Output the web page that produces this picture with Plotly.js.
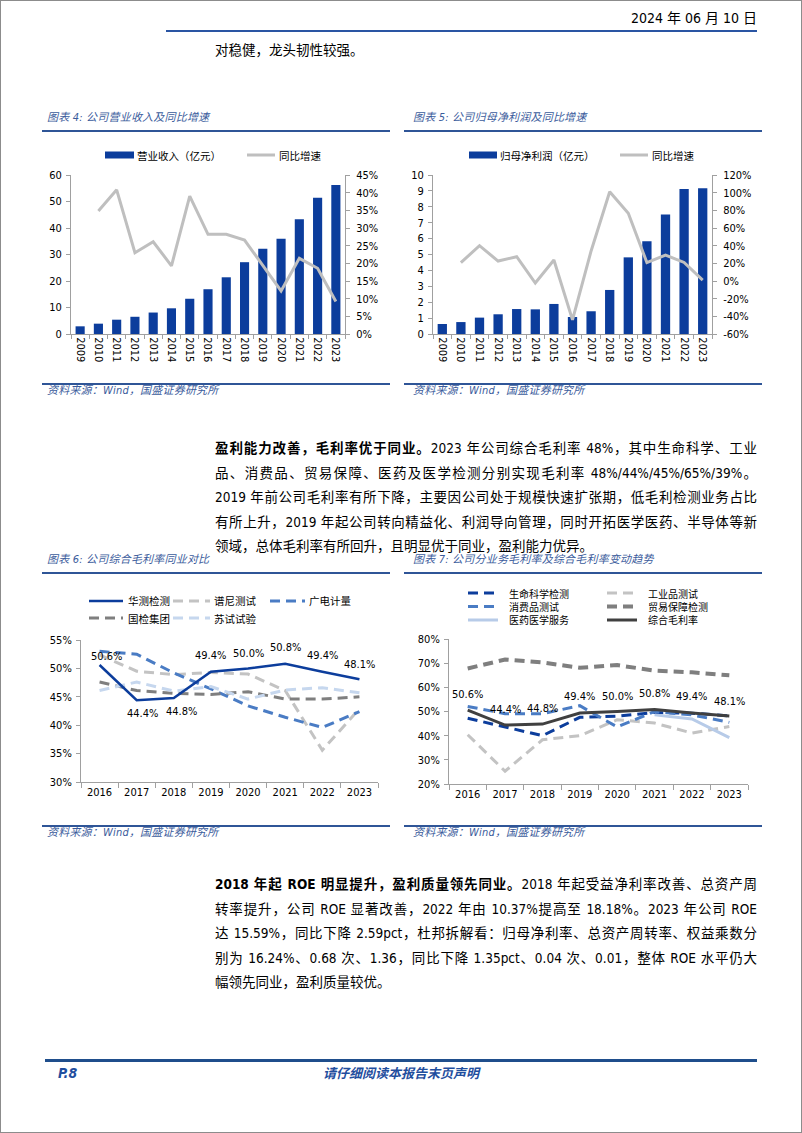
<!DOCTYPE html>
<html>
<head>
<meta charset="utf-8">
<script src="https://cdn.plot.ly/plotly-3.0.1.min.js"></script>
<style>
body{margin:0;background:#fff}
#page{position:relative;width:802px;height:1133px;overflow:hidden;background:#fff;color:#000;
  font-family:'DejaVu Sans Condensed','DejaVu Sans','Noto Sans CJK SC',sans-serif}
.frame{position:absolute;left:0;top:0;width:802px;height:1133px;box-sizing:border-box;border:1px solid #8c8c8c}
.cap{position:absolute;font-family:'DejaVu Sans Condensed','DejaVu Sans','Noto Sans CJK SC',sans-serif;
  font-style:italic;font-size:11px;color:#3b5c9c;letter-spacing:0.2px;line-height:14px;white-space:nowrap}
.rule{position:absolute;height:1.5px;background:#2f5597}
.para{position:absolute;left:215px;width:542px;font-size:13.5px;line-height:24.5px}
.para div{text-align:justify;text-align-last:justify;height:24.5px}
.para div.last{text-align-last:left}
.plot{position:absolute}
</style>
</head>
<body>
<div id="page">
  <div class="frame"></div>

  <!-- header -->
  <div style="position:absolute;right:45px;top:9px;font-size:14px;line-height:18px">2024 年 06 月 10 日</div>
  <div style="position:absolute;left:166px;top:30px;width:591px;height:2px;background:#2a55a3"></div>
  <div style="position:absolute;left:215px;top:40px;font-size:13.5px;line-height:20px">对稳健，龙头韧性较强。</div>

  <!-- 图表4 / 图表5 -->
  <div class="cap" style="left:47px;top:111px">图表 4: 公司营业收入及同比增速</div>
  <div class="rule" style="left:42px;top:130px;width:348px"></div>
  <div class="cap" style="left:413px;top:111px">图表 5: 公司归母净利润及同比增速</div>
  <div class="rule" style="left:404px;top:130px;width:358px"></div>
  <div id="chart4" class="plot" style="left:40px;top:135px"></div>
  <div id="chart5" class="plot" style="left:405px;top:135px"></div>
  <div class="rule" style="left:42px;top:383px;width:348px"></div>
  <div class="cap" style="left:47px;top:384px">资料来源：Wind，国盛证券研究所</div>
  <div class="rule" style="left:404px;top:383px;width:358px"></div>
  <div class="cap" style="left:413px;top:384px">资料来源：Wind，国盛证券研究所</div>

  <!-- paragraph 1 -->
  <div class="para" style="top:436px">
    <div><b>盈利能力改善，毛利率优于同业。</b>2023 年公司综合毛利率 48%，其中生命科学、工业</div>
    <div>品、消费品、贸易保障、医药及医学检测分别实现毛利率 48%/44%/45%/65%/39%。</div>
    <div>2019 年前公司毛利率有所下降，主要因公司处于规模快速扩张期，低毛利检测业务占比</div>
    <div>有所上升，2019 年起公司转向精益化、利润导向管理，同时开拓医学医药、半导体等新</div>
    <div class="last">领域，总体毛利率有所回升，且明显优于同业，盈利能力优异。</div>
  </div>

  <!-- 图表6 / 图表7 -->
  <div class="cap" style="left:47px;top:553px">图表 6: 公司综合毛利率同业对比</div>
  <div class="rule" style="left:42px;top:572px;width:348px"></div>
  <div class="cap" style="left:413px;top:553px">图表 7: 公司分业务毛利率及综合毛利率变动趋势</div>
  <div class="rule" style="left:404px;top:572px;width:358px"></div>
  <div id="chart6" class="plot" style="left:40px;top:575px"></div>
  <div id="chart7" class="plot" style="left:405px;top:575px"></div>
  <div class="rule" style="left:42px;top:825px;width:348px"></div>
  <div class="cap" style="left:47px;top:826px">资料来源：Wind，国盛证券研究所</div>
  <div class="rule" style="left:404px;top:825px;width:358px"></div>
  <div class="cap" style="left:413px;top:826px">资料来源：Wind，国盛证券研究所</div>

  <!-- paragraph 2 -->
  <div class="para" style="top:872px">
    <div><b>2018 年起 ROE 明显提升，盈利质量领先同业。</b>2018 年起受益净利率改善、总资产周</div>
    <div>转率提升，公司 ROE 显著改善，2022 年由 10.37%提高至 18.18%。2023 年公司 ROE</div>
    <div>达 15.59%，同比下降 2.59pct，杜邦拆解看：归母净利率、总资产周转率、权益乘数分</div>
    <div>别为 16.24%、0.68 次、1.36，同比下降 1.35pct、0.04 次、0.01，整体 ROE 水平仍大</div>
    <div class="last">幅领先同业，盈利质量较优。</div>
  </div>

  <!-- footer -->
  <div style="position:absolute;left:45px;top:1059px;width:712px;height:3px;background:#1f4e8c"></div>
  <div style="position:absolute;left:58px;top:1064px;font-size:14px;line-height:18px;font-weight:bold;font-style:italic;color:#1f4e9e">P.8</div>
  <div style="position:absolute;left:0;width:802px;top:1064px;text-align:center;font-size:13px;line-height:18px;font-weight:bold;font-style:italic;color:#1f4e9e;font-family:'Noto Sans CJK SC',sans-serif">请仔细阅读本报告末页声明</div>
</div>

<script>
// data
var years = ['2009', '2010', '2011', '2012', '2013', '2014', '2015', '2016', '2017', '2018', '2019', '2020', '2021', '2022', '2023'];
var revenue = [2.9, 3.9, 5.4, 6.5, 8.1, 9.7, 13.3, 16.9, 21.4, 27.1, 32.2, 35.9, 43.3, 51.4, 56.2];
var revenueYoy = [null, 34.8, 40.8, 23.0, 26.1, 19.3, 39.0, 28.2, 28.2, 26.6, 19.5, 12.2, 21.4, 18.6, 9.2];
var profit = [0.63, 0.75, 1.03, 1.24, 1.57, 1.55, 1.89, 1.07, 1.43, 2.77, 4.82, 5.83, 7.51, 9.12, 9.16];
var profitYoy = [null, 20.8, 40.0, 22.6, 27.5, -2.3, 23.8, -44.0, 34.0, 101.0, 76.6, 20.8, 29.4, 21.0, 1.0];

var yrs = ['2016', '2017', '2018', '2019', '2020', '2021', '2022', '2023'];
// 图表6 同业毛利率
var huace = [50.6, 44.4, 44.8, 49.4, 50.0, 50.8, 49.4, 48.1];
var pony = [52.4, 49.5, 48.9, 49.3, 49.0, 46.1, 35.6, 42.9];
var grg = [53.0, 52.5, 49.2, 46.4, 43.4, 41.4, 39.6, 42.4];
var ctc = [47.6, 46.1, 45.6, 45.4, 45.9, 44.6, 44.6, 45.0];
var sushi = [46.1, 47.6, 46.0, 46.8, 44.6, 46.2, 46.6, 45.7];
// 图表7 分业务毛利率
var lifeSci = [47.2, 43.6, 40.0, 47.6, 48.1, 49.6, 49.3, 48.2];
var industrial = [40.4, 25.3, 38.3, 40.0, 46.6, 45.2, 41.1, 43.8];
var consumer = [52.1, 49.1, 49.1, 52.4, 43.6, 50.0, 48.6, 45.5];
var trade = [67.8, 71.5, 70.3, 68.1, 69.2, 66.9, 66.2, 65.0];
var pharma = [null, null, null, null, null, 48.6, 46.9, 39.2];
var overall = [50.6, 44.4, 44.8, 49.4, 50.0, 50.8, 49.4, 48.1];

var numFont = "'DejaVu Sans Condensed', 'DejaVu Sans', sans-serif";
var cjkFont = "'Noto Sans CJK SC', sans-serif";
var navy = '#0c3d9c';
var axisGray = '#a0a0a0';
var config = {staticPlot: true};

function baseAxis(extra) {
    var a = {
        showgrid: false, zeroline: false, showline: true, linecolor: axisGray, linewidth: 1,
        ticks: 'outside', ticklen: 4, tickcolor: axisGray,
        tickfont: {family: numFont, size: 11, color: '#000'}
    };
    for (var k in extra) a[k] = extra[k];
    return a;
}

// legend drawn by hand so the swatches match the report; pos = [x0, x1, textX, y] in page px
function addLegend(layout, box, traces, pos, fontSize) {
    var m = layout.margin;
    var pw = box.w - m.l - m.r, ph = box.h - m.t - m.b;
    function px(x) { return (x - box.x - m.l) / pw; }
    function py(y) { return 1 - (y - box.y - m.t) / ph; }
    layout.shapes = layout.shapes || [];
    layout.annotations = layout.annotations || [];
    traces.forEach(function(tr, i) {
        var p = pos[i];
        if (tr.type === 'bar') {
            layout.shapes.push({type: 'rect', xref: 'paper', yref: 'paper',
                x0: px(p[0]), x1: px(p[1]), y0: py(p[3] + 3.5), y1: py(p[3] - 3.5),
                fillcolor: tr.marker.color, line: {width: 0}});
        } else {
            layout.shapes.push({type: 'line', xref: 'paper', yref: 'paper',
                x0: px(p[0]), x1: px(p[1]), y0: py(p[3]), y1: py(p[3]),
                line: {color: tr.line.color, width: tr.line.width, dash: tr.line.dash || 'solid'}});
        }
        layout.annotations.push({xref: 'paper', yref: 'paper', x: px(p[2]), y: py(p[3]),
            xanchor: 'left', yanchor: 'middle', showarrow: false, text: tr.name, borderpad: 0,
            font: {family: cjkFont, size: fontSize || 10.5, color: '#000'}});
    });
}

function barChart(id, box, barName, barVals, lineVals, y1, y2, legendPos) {
    var traces = [
        {type: 'bar', name: barName, x: years, y: barVals, marker: {color: navy}},
        {type: 'scatter', mode: 'lines', name: '同比增速', x: years, y: lineVals, yaxis: 'y2',
            line: {color: '#bfbfbf', width: 3}}
    ];
    var ticks2 = [];
    for (var v = y2.range[0]; v <= y2.range[1]; v += y2.dtick) ticks2.push(v);
    var layout = {
        width: box.w, height: box.h, margin: box.m, showlegend: false, bargap: 0.5,
        paper_bgcolor: 'rgba(0,0,0,0)', plot_bgcolor: 'rgba(0,0,0,0)',
        xaxis: baseAxis({type: 'category', range: [-0.5, years.length - 0.5], tickangle: 90, tickson: 'boundaries'}),
        yaxis: baseAxis({range: y1.range, dtick: y1.dtick, ticklabelstandoff: 2}),
        yaxis2: baseAxis({range: y2.range, overlaying: 'y', side: 'right', ticklabelstandoff: 4,
            tickmode: 'array', tickvals: ticks2, ticktext: ticks2.map(function(t) { return t + '%'; })})
    };
    addLegend(layout, box, traces, legendPos);
    Plotly.newPlot(id, traces, layout, config);
}

function lineChart(id, box, traces, yRange, dtick, labelVals, xs, ys, legendPos, legendSize) {
    var layout = {
        width: box.w, height: box.h, margin: box.m, showlegend: false,
        paper_bgcolor: 'rgba(0,0,0,0)', plot_bgcolor: 'rgba(0,0,0,0)',
        xaxis: baseAxis({type: 'category', range: [-0.5, yrs.length - 0.5], tickson: 'boundaries', ticklen: 5}),
        yaxis: baseAxis({range: yRange, dtick: dtick, ticksuffix: '%', ticklabelstandoff: 2}),
        // value labels: x given as category index so '2016' is not read as a number
        annotations: labelVals.map(function(v, i) {
            return {x: i, y: v, xref: 'x', yref: 'y', text: v.toFixed(1) + '%', showarrow: false,
                xshift: xs[i], yshift: ys[i], font: {family: numFont, size: 11, color: '#000'}};
        })
    };
    addLegend(layout, box, traces, legendPos, legendSize);
    Plotly.newPlot(id, traces, layout, config);
}

function dashed(name, y, color, width) {
    return {type: 'scatter', mode: 'lines', name: name, x: yrs, y: y,
        line: {color: color, width: width, dash: '10px,6px'}};
}
function solid(name, y, color, width) {
    return {type: 'scatter', mode: 'lines', name: name, x: yrs, y: y,
        line: {color: color, width: width}};
}

// 图表4
barChart('chart4', {x: 40, y: 135, w: 355, h: 245, m: {l: 31, r: 50, t: 40, b: 46}},
    '营业收入（亿元）', revenue, revenueYoy,
    {range: [0, 60], dtick: 10}, {range: [0, 45], dtick: 5},
    [[105, 134, 136, 155], [247, 275, 278, 155]]);

// 图表5
barChart('chart5', {x: 405, y: 135, w: 357, h: 245, m: {l: 28, r: 50, t: 40, b: 46}},
    '归母净利润（亿元）', profit, profitYoy,
    {range: [0, 10], dtick: 1}, {range: [-60, 120], dtick: 20},
    [[469, 497, 499, 155], [620, 648, 651, 155]]);

// 图表6
lineChart('chart6', {x: 40, y: 575, w: 352, h: 245, m: {l: 41, r: 14, t: 65, b: 38}},
    [
        dashed('谱尼测试', pony, '#c3c3c3', 3),
        dashed('广电计量', grg, '#4a7cc4', 3),
        dashed('国检集团', ctc, '#7f7f7f', 3),
        dashed('苏试试验', sushi, '#c6d7ee', 3),
        solid('华测检测', huace, navy, 2.5)
    ],
    [30, 55], 5, huace,
    [7, 6, 8, 0, 0, 0, 0, 0], [8, -13, -14, 16, 15, 16, 16, 15],
    [[173, 210, 213, 601], [270, 305, 308, 601], [89, 123, 127, 618], [173, 210, 213, 618], [89, 123, 127, 601]],
    10.5);

// 图表7
lineChart('chart7', {x: 405, y: 575, w: 357, h: 245, m: {l: 44, r: 14, t: 64, b: 36}},
    [
        dashed('生命科学检测', lifeSci, navy, 3),
        dashed('工业品测试', industrial, '#c3c3c3', 3),
        dashed('消费品测试', consumer, '#4a7cc4', 3),
        dashed('贸易保障检测', trade, '#7f7f7f', 4),
        solid('医药医学服务', pharma, '#b7cbe8', 3),
        solid('综合毛利率', overall, '#404040', 3)
    ],
    [20, 80], 10, overall,
    [0, 0, 0, 0, 0, 0, 0, 0], [16, 16, 16, 16, 15, 16, 16, 15],
    [[468, 498, 508, 593], [607, 637, 647, 593], [468, 498, 508, 606.5], [607, 637, 647, 606.5], [468, 498, 508, 620], [607, 637, 647, 620]],
    10);
</script>
</body>
</html>
